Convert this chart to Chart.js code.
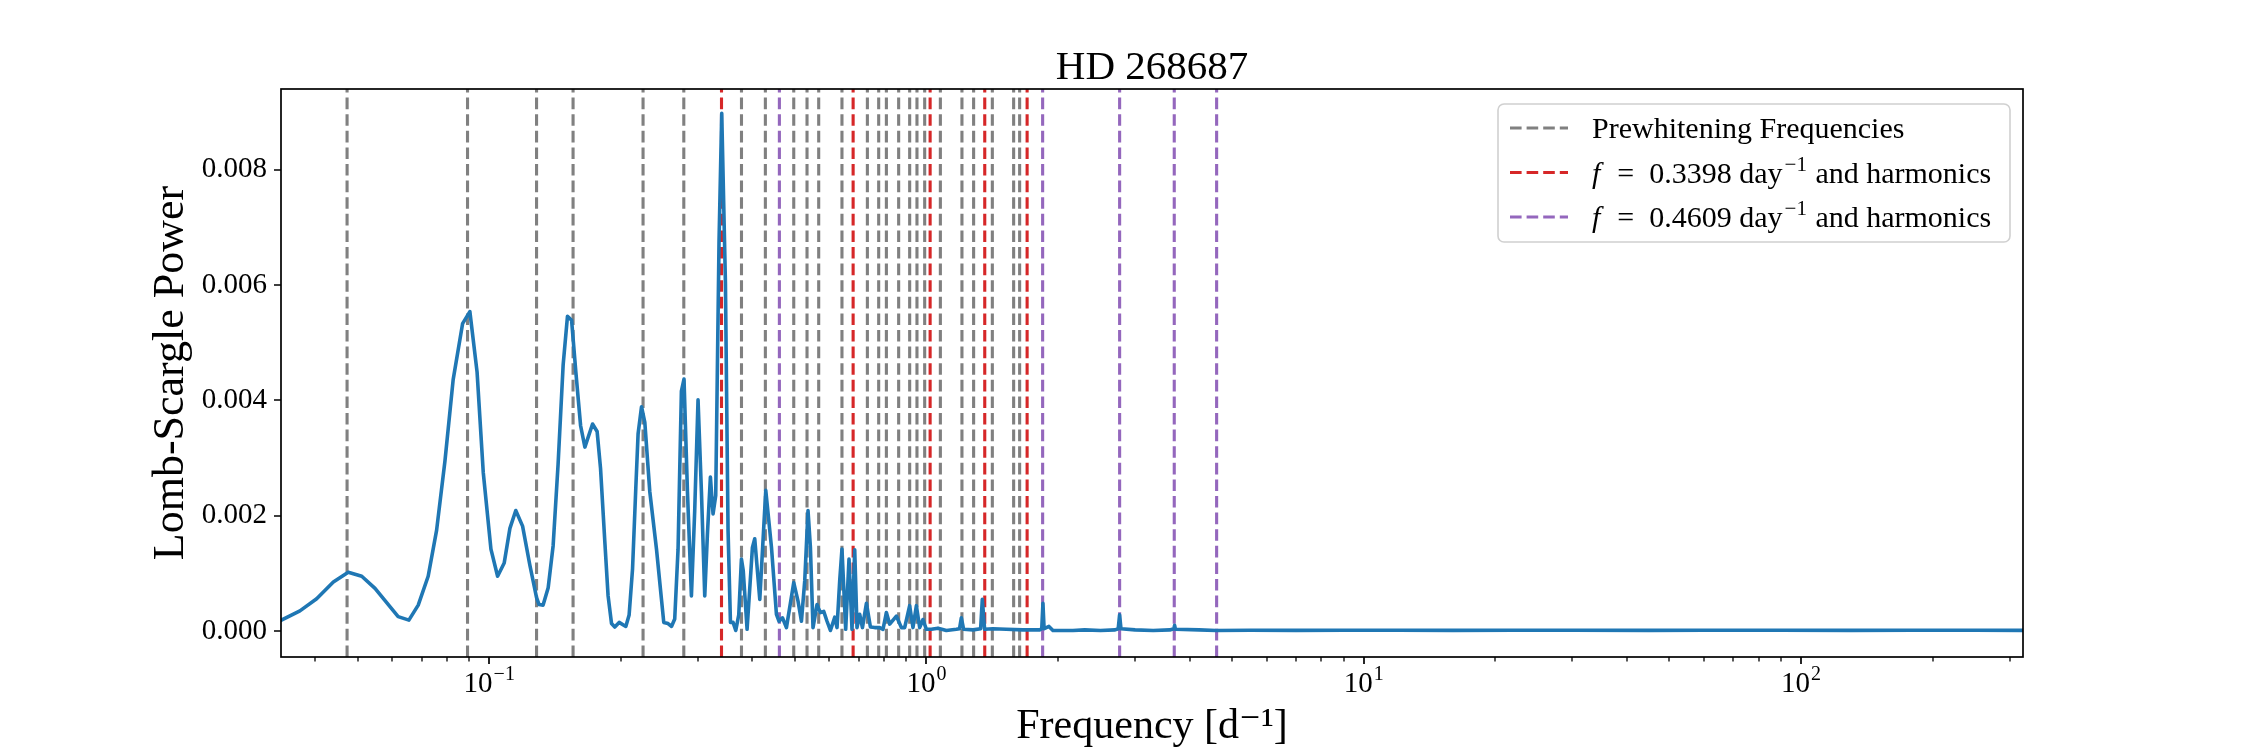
<!DOCTYPE html>
<html lang="en">
<head>
<meta charset="UTF-8">
<title>HD 268687</title>
<script src="https://cdn.jsdelivr.net/npm/chart.js@4.4.1/dist/chart.umd.min.js"></script>
<style>
  html, body { margin: 0; padding: 0; background: #fff; }
  canvas { display: block; }
</style>
</head>
<body>
<canvas id="periodogram" width="2250" height="750"></canvas>
<script>
// Lomb-Scargle periodogram
const freqs = [
  0.0333, 0.0369, 0.0403, 0.0440, 0.0476, 0.0511, 0.0548, 0.0619, 0.0655, 0.0688,
  0.0725, 0.0758, 0.0792, 0.0827, 0.0869, 0.0903, 0.0938, 0.0969, 0.1009, 0.1045,
  0.1082, 0.1115, 0.1150, 0.1192, 0.1238, 0.1283, 0.1300, 0.1328, 0.1364, 0.1400,
  0.1437, 0.1476, 0.1510, 0.1543, 0.1578, 0.1618, 0.1655, 0.1723, 0.1765, 0.1797,
  0.1838, 0.1870, 0.1904, 0.1937, 0.1982, 0.2053, 0.2089, 0.2127, 0.2164, 0.2190,
  0.2230, 0.2269, 0.2329, 0.2413, 0.2477, 0.2507, 0.2564, 0.2611, 0.2656, 0.2703,
  0.2751, 0.2789, 0.2840, 0.2900, 0.2951, 0.3003, 0.3057, 0.3111, 0.3155, 0.3205,
  0.3250, 0.3296, 0.3354, 0.3402, 0.3469, 0.3517, 0.3562, 0.3611, 0.3663, 0.3721,
  0.3774, 0.3810, 0.3888, 0.3999, 0.4048, 0.4157, 0.4290, 0.4421, 0.4538, 0.4601,
  0.4684, 0.4783, 0.4867, 0.4971, 0.5084, 0.5176, 0.5267, 0.5359, 0.5427, 0.5502,
  0.5619, 0.5720, 0.5821, 0.5923, 0.6030, 0.6168, 0.6243, 0.6332, 0.6408, 0.6535,
  0.6650, 0.6756, 0.6853, 0.6936, 0.7036, 0.7137, 0.7289, 0.7444, 0.7614, 0.7816,
  0.7953, 0.8097, 0.8240, 0.8535, 0.8762, 0.8915, 0.9153, 0.9314, 0.9482, 0.9648,
  0.9818, 0.9995, 1.0261, 1.0624, 1.1104, 1.1704, 1.1900, 1.2016, 1.2162, 1.2775,
  1.3300, 1.3419, 1.3583, 1.4191, 1.5224, 1.6620, 1.8148, 1.8350, 1.8466, 1.8580,
  1.8800, 1.9059, 1.9465, 2.1623, 2.30, 2.50, 2.70, 2.745, 2.765, 2.785,
  3.00, 3.30, 3.60, 3.68, 3.694, 3.71, 4.20, 4.60, 5.50, 7.0,
  9.0, 12, 16, 22, 30, 45, 60, 90, 130, 180,
  250, 330
];
const powers = [
  0.00018, 0.00035, 0.00056, 0.00085, 0.00102, 0.00095, 0.00074, 0.00025, 0.00019, 0.00045,
  0.00095, 0.00175, 0.00295, 0.00436, 0.00533, 0.00554, 0.00449, 0.00275, 0.00142, 0.00095,
  0.00118, 0.00178, 0.00209, 0.00182, 0.00115, 0.00058, 0.00046, 0.00045, 0.00075, 0.00148,
  0.00289, 0.00462, 0.00546, 0.00539, 0.00449, 0.00356, 0.00319, 0.00359, 0.00346, 0.00282,
  0.00155, 0.00061, 0.00013, 0.00007, 0.00015, 0.00008, 0.00028, 0.00108, 0.00249, 0.00342,
  0.00389, 0.00362, 0.00242, 0.00142, 0.00055, 0.00015, 0.00013, 0.00008, 0.00021, 0.00142,
  0.00416, 0.00437, 0.00242, 0.00061, 0.00209, 0.00401, 0.00242, 0.00061, 0.00168, 0.00267,
  0.00203, 0.00235, 0.00676, 0.00898, 0.00603, 0.00175, 0.00015, 0.00015, 0.00001, 0.00028,
  0.00125, 0.00105, 0.00003, 0.00145, 0.00160, 0.00055, 0.00244, 0.00145, 0.00029, 0.00017,
  0.00023, 0.00006, 0.00041, 0.00084, 0.00052, 0.00017, 0.00087, 0.00209, 0.00145, 0.00006,
  0.00046, 0.00032, 0.00034, 0.00017, 0.00001, 0.00024, 0.00006, 0.00087, 0.00142, 0.00003,
  0.00125, 0.00003, 0.00141, 0.00006, 0.00029, 0.00006, 0.00048, 0.00007, 0.00006, 0.00006,
  0.00003, 0.00032, 0.00012, 0.00026, 0.00006, 0.00006, 0.00044, 0.00006, 0.00044, 0.00006,
  0.00020, 0.00003, 0.00003, 0.00005, 0.00001, 0.00003, 0.00004, 0.00023, 0.00003, 0.00002,
  0.00004, 0.00055, 0.00003, 0.00004, 0.00003, 0.00002, 0.00002, 0.00004, 0.00048, 0.00004,
  0.00006, 0.00008, 0.00001, 0.00001, 0.00002, 0.00001, 0.00002, 0.00004, 0.00028, 0.00004,
  0.00002, 0.00001, 0.00002, 0.00004, 0.00010, 0.00003, 0.00002, 0.00001, 0.000015, 0.000012,
  0.000014, 0.000013, 0.000012, 0.000014, 0.000013, 0.000012, 0.000013, 0.000014, 0.000012, 0.000013,
  0.000014, 0.000012
];

// vertical marker lines [d^-1]
const prewhitening = [
  0.0473, 0.0892, 0.1283, 0.1555, 0.2248, 0.2786, 0.3775, 0.4281, 0.4971, 0.5331,
  0.5669, 0.6408, 0.7326, 0.7775, 0.8097, 0.8637, 0.9153, 0.9512, 0.9906, 1.0759,
  1.2054, 1.2818, 1.4146, 1.5825, 1.6333
];
const harmonics3398 = [0.3398, 0.6796, 1.0194, 1.3592, 1.6990];
const harmonics4609 = [0.4609, 1.8436, 2.7654, 3.6872, 4.6090];

// axes
const xRange = [0.0334, 322];
const yRange = [-0.00045, 0.0094];
const yTicks = [0, 0.002, 0.004, 0.006, 0.008];
const xMajorTicks = [0.1, 1, 10, 100];
const xMajorExponents = ['\u22121', '0', '1', '2'];
const xMinorTicks = [
  0.04, 0.05, 0.06, 0.07, 0.08, 0.09,
  0.2, 0.3, 0.4, 0.5, 0.6, 0.7, 0.8, 0.9,
  2, 3, 4, 5, 6, 7, 8, 9,
  20, 30, 40, 50, 60, 70, 80, 90,
  200, 300
];

const SERIF = '"Liberation Serif", "DejaVu Serif", serif';
const GRAY = '#808080', RED = '#d62728', PURPLE = '#9467bd', BLUE = '#1f77b4';
const DASH = [11.6, 5];

Chart.defaults.font.family = SERIF;
Chart.defaults.color = '#000';

function vline(f, color) {
  return {
    data: [{x: f, y: yRange[0]}, {x: f, y: yRange[1]}],
    borderColor: color,
    borderWidth: 3.1,
    borderDash: DASH,
    pointRadius: 0,
    order: 1
  };
}

const datasets = [{
  data: freqs.map((f, i) => ({x: f, y: powers[i]})),
  borderColor: BLUE,
  borderWidth: 3.6,
  borderJoinStyle: 'round',
  borderCapStyle: 'round',
  pointRadius: 0,
  tension: 0,
  order: 0
}];
prewhitening.forEach(f => datasets.push(vline(f, GRAY)));
harmonics3398.forEach(f => datasets.push(vline(f, RED)));
harmonics4609.forEach(f => datasets.push(vline(f, PURPLE)));

// frame, tick marks, log tick labels and the legend box
const axesDecor = {
  id: 'axesDecor',
  afterDraw(chart) {
    const {ctx, chartArea: a} = chart;
    const x = chart.scales.x, y = chart.scales.y;
    ctx.save();
    ctx.strokeStyle = '#000';
    ctx.lineWidth = 1.7;
    ctx.beginPath();
    yTicks.forEach(v => {
      const py = Math.round(y.getPixelForValue(v));
      ctx.moveTo(a.left, py); ctx.lineTo(a.left - 7, py);
    });
    xMajorTicks.forEach(v => {
      const px = Math.round(x.getPixelForValue(v));
      ctx.moveTo(px, a.bottom); ctx.lineTo(px, a.bottom + 7);
    });
    ctx.stroke();
    ctx.lineWidth = 1.3;
    ctx.beginPath();
    xMinorTicks.forEach(v => {
      const px = Math.round(x.getPixelForValue(v));
      ctx.moveTo(px, a.bottom); ctx.lineTo(px, a.bottom + 4.5);
    });
    ctx.stroke();
    ctx.lineWidth = 1.7;
    ctx.strokeRect(a.left, a.top, a.right - a.left, a.bottom - a.top);

    // 10^n labels
    ctx.fillStyle = '#000';
    ctx.textBaseline = 'alphabetic';
    ctx.textAlign = 'left';
    xMajorTicks.forEach((v, i) => {
      const px = x.getPixelForValue(v);
      ctx.font = '29px ' + SERIF;
      const wb = ctx.measureText('10').width;
      ctx.font = '20px ' + SERIF;
      const we = ctx.measureText(xMajorExponents[i]).width;
      const x0 = px - (wb + we + 1) / 2;
      ctx.font = '29px ' + SERIF;
      ctx.fillText('10', x0, a.bottom + 35);
      ctx.font = '20px ' + SERIF;
      ctx.fillText(xMajorExponents[i], x0 + wb + 1, a.bottom + 23);
    });

    // legend
    const bw = 512, bh = 138;
    const bx = a.right - 13 - bw, by = a.top + 15;
    ctx.fillStyle = 'rgba(255,255,255,0.85)';
    ctx.strokeStyle = '#d0d0d0';
    ctx.lineWidth = 1.6;
    ctx.beginPath();
    ctx.roundRect(bx, by, bw, bh, 6);
    ctx.fill();
    ctx.stroke();

    const rows = [
      {color: GRAY, parts: [{t: 'Prewhitening Frequencies'}]},
      {color: RED, parts: [{t: 'f', it: true}, {t: '\u2002=\u20020.3398 day'}, {t: '\u22121', sup: true}, {t: ' and harmonics'}]},
      {color: PURPLE, parts: [{t: 'f', it: true}, {t: '\u2002=\u20020.4609 day'}, {t: '\u22121', sup: true}, {t: ' and harmonics'}]}
    ];
    rows.forEach((row, i) => {
      const cy = by + 24 + i * 44.5;
      ctx.strokeStyle = row.color;
      ctx.lineWidth = 3;
      ctx.setLineDash(DASH);
      ctx.beginPath();
      ctx.moveTo(bx + 12, cy); ctx.lineTo(bx + 70, cy);
      ctx.stroke();
      ctx.setLineDash([]);
      let tx = bx + 94;
      ctx.fillStyle = '#000';
      row.parts.forEach(p => {
        if (p.sup) {
          ctx.font = '21px ' + SERIF;
          ctx.fillText(p.t, tx + 2, cy - 2);
          tx += ctx.measureText(p.t).width + 3;
        } else {
          ctx.font = (p.it ? 'italic ' : '') + '30px ' + SERIF;
          ctx.fillText(p.t, tx, cy + 10);
          tx += ctx.measureText(p.t).width + (p.it ? 2 : 0);
        }
      });
    });
    ctx.restore();
  }
};

new Chart(document.getElementById('periodogram').getContext('2d'), {
  type: 'line',
  data: { datasets: datasets },
  options: {
    responsive: false,
    animation: false,
    devicePixelRatio: 1,
    layout: { padding: { left: 0, right: 227, top: 0, bottom: 0 } },
    plugins: {
      legend: { display: false },
      tooltip: { enabled: false },
      title: {
        display: true,
        fullSize: false,
        text: 'HD 268687',
        color: '#000',
        font: { size: 41, weight: 'normal', lineHeight: 1.0 },
        padding: { top: 47.5, bottom: 0.5 }
      }
    },
    scales: {
      x: {
        type: 'logarithmic',
        min: xRange[0],
        max: xRange[1],
        afterFit: s => { s.height = 93; },
        afterBuildTicks: s => { s.ticks = xMajorTicks.map(v => ({value: v, major: true})); },
        ticks: { display: false },
        grid: { display: false, drawTicks: false },
        border: { display: false },
        title: {
          display: true,
          text: 'Frequency [d\u207B\u00B9]',
          color: '#000',
          font: { size: 42, lineHeight: 1.0 },
          padding: { top: 0, bottom: 2.2 }
        }
      },
      y: {
        type: 'linear',
        min: yRange[0],
        max: yRange[1],
        afterFit: s => { s.width = 281; },
        afterBuildTicks: s => { s.ticks = yTicks.map(v => ({value: v})); },
        ticks: {
          callback: v => v.toFixed(3),
          font: { size: 29 },
          color: '#000',
          padding: 14
        },
        grid: { display: false, drawTicks: false },
        border: { display: false },
        title: {
          display: true,
          text: 'Lomb-Scargle Power',
          color: '#000',
          font: { size: 44, lineHeight: 1.0 },
          padding: { top: 149, bottom: 0 }
        }
      }
    }
  },
  plugins: [axesDecor]
});
</script>
</body>
</html>
